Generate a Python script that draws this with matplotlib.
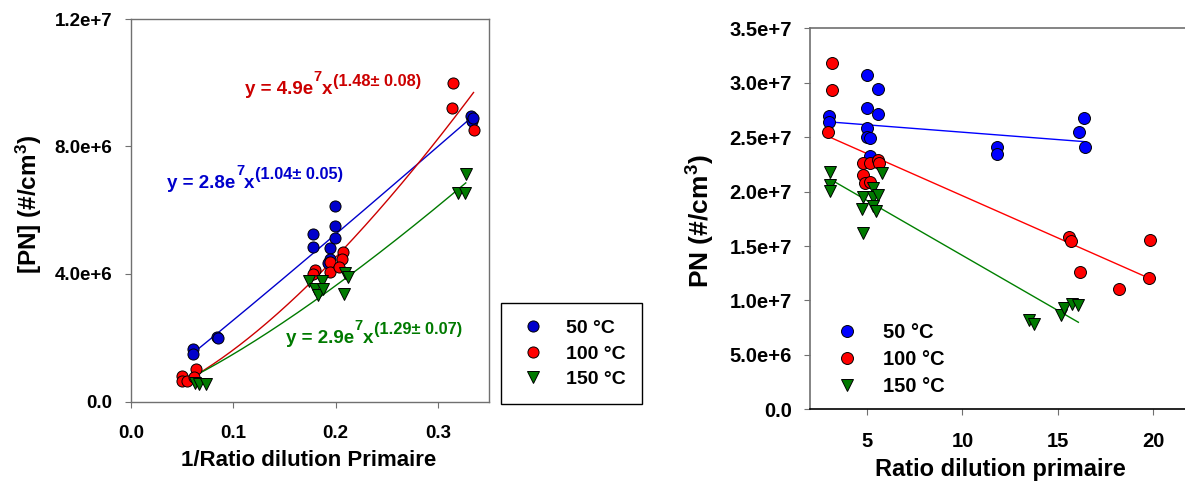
import matplotlib
matplotlib.use('Agg')
import matplotlib.pyplot as plt
import numpy as np

plt.rcParams['font.family'] = ['Liberation Sans', 'DejaVu Sans']
plt.rcParams['font.weight'] = 'bold'
plt.rcParams['mathtext.default'] = 'regular'

# ---------------- data: left panel (1/ratio vs PN) ----------------
series_labels = ["50 °C", "100 °C", "150 °C"]

blue_x_L = [0.061, 0.061, 0.084, 0.085, 0.178, 0.178, 0.1997, 0.1997, 0.1995, 0.194, 0.194, 0.192, 0.332, 0.333, 0.334]
blue_y_L = [1.64e6, 1.48e6, 2.01e6, 1.98e6, 5.24e6, 4.85e6, 6.14e6, 5.52e6, 5.13e6, 4.83e6, 4.46e6, 4.33e6, 8.96e6, 8.81e6, 8.88e6]
red_x_L = [0.050, 0.050, 0.055, 0.0635, 0.062, 0.180, 0.178, 0.1945, 0.1945, 0.207, 0.206, 0.2036, 0.3144, 0.3138, 0.3346]
red_y_L = [0.80e6, 0.64e6, 0.64e6, 1.02e6, 0.78e6, 4.13e6, 4.00e6, 4.39e6, 4.07e6, 4.68e6, 4.46e6, 4.22e6, 1.0e7, 9.22e6, 8.52e6]
green_x_L = [0.063, 0.0665, 0.073, 0.174, 0.180, 0.183, 0.187, 0.188, 0.209, 0.212, 0.2076, 0.327, 0.319, 0.326]
green_y_L = [0.57e6, 0.55e6, 0.55e6, 3.78e6, 3.53e6, 3.34e6, 3.78e6, 3.52e6, 4.04e6, 3.90e6, 3.37e6, 7.14e6, 6.55e6, 6.55e6]

# power-law fits shown on the chart: y = a * x^b
fit_a_L = [2.8e7, 4.9e7, 2.9e7]
fit_b_L = [1.04, 1.48, 1.29]
fit_coef_text = ["2.8", "4.9", "2.9"]
fit_expo_text = ["1.04± 0.05", "1.48± 0.08", "1.29± 0.07"]

xticks_L = [0.0, 0.1, 0.2, 0.3]
xtick_labels_L = ["0.0", "0.1", "0.2", "0.3"]
yticks_L = [0, 4e6, 8e6, 1.2e7]
ytick_labels_L = ["0.0", "4.0e+6", "8.0e+6", "1.2e+7"]

# ---------------- data: right panel (ratio vs PN) ----------------
blue_x_R = [3.0, 3.0, 4.97, 4.97, 5.58, 5.58, 4.99, 4.97, 5.15, 5.15, 11.8, 11.8, 16.39, 16.1, 16.43]
blue_y_R = [2.694e7, 2.642e7, 3.074e7, 2.765e7, 2.942e7, 2.713e7, 2.58e7, 2.504e7, 2.49e7, 2.327e7, 2.412e7, 2.345e7, 2.679e7, 2.55e7, 2.41e7]
red_x_R = [3.17, 3.17, 2.96, 4.80, 4.80, 4.89, 5.15, 5.15, 5.55, 5.64, 15.6, 15.69, 16.17, 18.23, 19.84, 19.81]
red_y_R = [3.18e7, 2.933e7, 2.547e7, 2.26e7, 2.152e7, 2.076e7, 2.26e7, 2.09e7, 2.29e7, 2.26e7, 1.586e7, 1.549e7, 1.264e7, 1.102e7, 1.555e7, 1.203e7]
green_x_R = [3.05, 3.06, 3.05, 4.76, 4.71, 4.80, 5.32, 5.29, 5.58, 5.32, 5.46, 5.76, 13.5, 13.75, 15.17, 15.35, 15.73, 16.08]
green_y_R = [2.183e7, 2.06e7, 2.008e7, 1.948e7, 1.837e7, 1.622e7, 2.03e7, 1.948e7, 1.969e7, 1.868e7, 1.822e7, 2.174e7, 8.2e6, 7.8e6, 8.66e6, 9.28e6, 9.67e6, 9.58e6]

# linear fits: y = slope * x + intercept
fit_slope_R = [-1.355e5, -7.735e5, -1.009e6]
fit_intercept_R = [2.681e7, 2.735e7, 2.422e7]

xticks_R = [5, 10, 15, 20]
xtick_labels_R = ["5", "10", "15", "20"]
yticks_R = [0, 5e6, 1e7, 1.5e7, 2e7, 2.5e7, 3e7, 3.5e7]
ytick_labels_R = ["0.0", "5.0e+6", "1.0e+7", "1.5e+7", "2.0e+7", "2.5e+7", "3.0e+7", "3.5e+7"]

# ---------------- styling ----------------
W, H = 1185, 488
GRAY = '#707070'
marker_fc_L = ['#0000cc', '#ff0000', '#007a00']
line_c_L = ['#0000cc', '#cc0000', '#007a00']
marker_fc_R = ['#0000ff', '#ff0000', '#007a00']
line_c_R = ['#0000ff', '#ff0000', '#008000']
markers = ['o', 'o', 'v']

fig = plt.figure(figsize=(W / 100, H / 100), dpi=100)
axL = fig.add_axes([131 / W, (H - 401.5) / H, 358.3 / W, 382.5 / H])
axR = fig.add_axes([810 / W, (H - 409.3) / H, 381.2 / W, 381 / H])

# ---------- left panel ----------
xs_L = [blue_x_L, red_x_L, green_x_L]
ys_L = [blue_y_L, red_y_L, green_y_L]
for i in range(3):
    xx = np.linspace(min(xs_L[i]), max(xs_L[i]), 200)
    axL.plot(xx, fit_a_L[i] * xx ** fit_b_L[i], color=line_c_L[i], lw=1.0, zorder=2)
handles_L = []
for i in range(3):
    h, = axL.plot(xs_L[i], ys_L[i], ls='none', marker=markers[i], ms=8.0 if i < 2 else 8.6,
                  mfc=marker_fc_L[i], mec='black', mew=0.7, zorder=3 + i, label=series_labels[i])
    handles_L.append(h)

axL.set_xlim(0, 0.35)
axL.set_ylim(0, 1.2e7)
axL.set_xticks(xticks_L)
axL.set_xticklabels(xtick_labels_L)
axL.set_yticks(yticks_L)
axL.set_yticklabels(ytick_labels_L)
axL.tick_params(axis='both', direction='out', length=4, width=0.8, color=GRAY, labelsize=13.5)
axL.tick_params(axis='y', pad=9.5)
axL.tick_params(axis='x', pad=13)
for s in axL.spines.values():
    s.set_color(GRAY)
    s.set_linewidth(1.0)

axL.set_xlabel("1/Ratio dilution Primaire", fontsize=16, fontweight='bold')
axL.xaxis.set_label_coords(0.496, -0.153)
axL.xaxis.label.set_va('center')
axL.set_ylabel("[PN] (#/cm$^{3}$)", fontsize=17.5, fontweight='bold')
axL.yaxis.set_label_coords(-0.285, 0.516)
axL.yaxis.label.set_va('center')

# equations
eq_pos_px = [(167.3, 187.7), (245, 94.4), (286, 342.7)]
for i in range(3):
    px, py = eq_pos_px[i]
    t1 = axL.text(px / W, 1 - py / H, f"y = {fit_coef_text[i]}e", transform=fig.transFigure,
                  color=line_c_L[i], fontsize=13.5, fontweight='bold', ha='left', va='baseline')
    t2 = axL.annotate("7", xy=(1, 0), xycoords=t1, xytext=(0.5, 10.2), textcoords='offset points',
                      color=line_c_L[i], fontsize=10.5, fontweight='bold', ha='left', va='bottom')
    t3 = axL.annotate("x", xy=(1, 0), xycoords=t2, xytext=(0, -10.2), textcoords='offset points',
                      color=line_c_L[i], fontsize=13.5, fontweight='bold', ha='left', va='bottom')
    t4 = axL.annotate(f"({fit_expo_text[i]})", xy=(1, 0), xycoords=t3, xytext=(0.5, 7.0),
                      textcoords='offset points', color=line_c_L[i], fontsize=11.8,
                      fontweight='bold', ha='left', va='bottom')

legL = axL.legend(handles=handles_L, loc='upper left', bbox_to_anchor=(501 / W, 1 - 303 / H),
                  bbox_transform=fig.transFigure, borderaxespad=0, frameon=True, fancybox=False,
                  edgecolor='black', framealpha=1, fontsize=14, borderpad=0.85, handlelength=1.6,
                  handletextpad=0.9, labelspacing=0.4, numpoints=1)
legL.get_frame().set_linewidth(1.0)
for t in legL.get_texts():
    t.set_fontweight('bold')

# ---------- right panel ----------
xs_R = [blue_x_R, red_x_R, green_x_R]
ys_R = [blue_y_R, red_y_R, green_y_R]
for i in range(3):
    xx = np.array([min(xs_R[i]), max(xs_R[i])])
    axR.plot(xx, fit_slope_R[i] * xx + fit_intercept_R[i], color=line_c_R[i], lw=1.0, zorder=2)
handles_R = []
for i in range(3):
    h, = axR.plot(xs_R[i], ys_R[i], ls='none', marker=markers[i], ms=8.6 if i < 2 else 9.2,
                  mfc=marker_fc_R[i], mec='black', mew=0.7, zorder=3 + i, label=series_labels[i])
    handles_R.append(h)

axR.set_xlim(2, 22)
axR.set_ylim(0, 3.5e7)
axR.set_xticks(xticks_R)
axR.set_xticklabels(xtick_labels_R)
axR.set_yticks(yticks_R)
axR.set_yticklabels(ytick_labels_R)
axR.tick_params(axis='both', direction='out', length=4, width=0.8, color=GRAY, labelsize=14.5)
axR.tick_params(axis='y', pad=9.0)
axR.tick_params(axis='x', pad=12.5)
for name, s in axR.spines.items():
    s.set_color(GRAY)
    s.set_linewidth(1.2)
axR.spines['bottom'].set_color('black')

axR.set_xlabel("Ratio dilution primaire", fontsize=17, fontweight='bold')
axR.xaxis.set_label_coords(0.4997, -0.159)
axR.xaxis.label.set_va('center')
axR.set_ylabel("PN (#/cm$^{3}$)", fontsize=19, fontweight='bold')
axR.yaxis.set_label_coords(-0.286, 0.493)
axR.yaxis.label.set_va('center')

legR = axR.legend(handles=handles_R, loc='upper left', bbox_to_anchor=(815 / W, 1 - 311 / H),
                  bbox_transform=fig.transFigure, borderaxespad=0, frameon=False, fontsize=14.5,
                  borderpad=0.6, handlelength=2.0, handletextpad=0.78, labelspacing=0.4, numpoints=1)
for t in legR.get_texts():
    t.set_fontweight('bold')

fig.savefig("out.png", dpi=100)
